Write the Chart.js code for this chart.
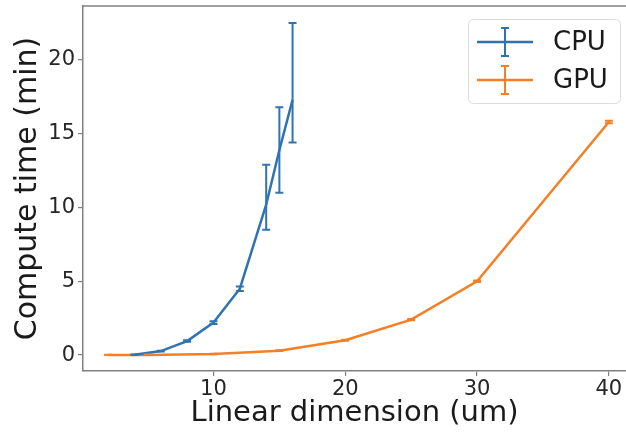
<!DOCTYPE html>
<html>
<head>
<meta charset="utf-8">
<script src="https://cdn.jsdelivr.net/npm/chart.js@4/dist/chart.umd.min.js"></script>
<style>
  html, body { margin: 0; padding: 0; background: #fff; }
  #wrap { width: 626px; height: 436px; }
</style>
</head>
<body>
<div id="wrap"><canvas id="timing__chart"></canvas></div>
<script>
// values
var seriesNames = ['CPU', 'GPU'];
var cpuX   = [4, 6, 8, 10, 12, 14, 15, 16];
var cpuY   = [0.02, 0.27, 0.95, 2.2, 4.5, 10.2, 13.9, 17.3];
var cpuMin = [0.0, 0.24, 0.9, 2.1, 4.35, 8.5, 11.0, 14.4];
var cpuMax = [0.04, 0.3, 1.0, 2.3, 4.65, 12.9, 16.8, 22.5];
var gpuX   = [2, 5, 10, 15, 20, 25, 30, 40];
var gpuY   = [0.0, 0.01, 0.07, 0.3, 1.0, 2.4, 5.0, 15.8];
var gpuMin = [0.0, 0.0, 0.05, 0.27, 0.97, 2.36, 4.95, 15.72];
var gpuMax = [0.02, 0.03, 0.09, 0.33, 1.03, 2.44, 5.05, 15.88];
var xTicks = [10, 20, 30, 40];
var yTicks = [0, 5, 10, 15, 20];

var blue = '#2f74b1';
var orange = '#f47f25';
var spine = '#808080';

function pts(xs, ys) {
    return xs.map(function (x, i) { return {x: x, y: ys[i]}; });
}

var errorBars = {
    id: 'errorBars',
    afterDatasetsDraw: function (chart) {
        var ctx = chart.ctx;
        var xs = chart.scales.x, ys = chart.scales.y;
        chart.data.datasets.forEach(function (ds) {
            ctx.save();
            ctx.strokeStyle = ds.borderColor;
            ctx.lineWidth = 2;
            ds.data.forEach(function (p, i) {
                var px = xs.getPixelForValue(p.x);
                var lo = ys.getPixelForValue(ds.errMin[i]);
                var hi = ys.getPixelForValue(ds.errMax[i]);
                ctx.beginPath();
                ctx.moveTo(px, lo); ctx.lineTo(px, hi);
                ctx.moveTo(px - 4, lo); ctx.lineTo(px + 4, lo);
                ctx.moveTo(px - 4, hi); ctx.lineTo(px + 4, hi);
                ctx.stroke();
            });
            ctx.restore();
        });
    }
};

var frameAndLegend = {
    id: 'frameAndLegend',
    afterDraw: function (chart) {
        var ctx = chart.ctx, a = chart.chartArea;
        ctx.save();
        // top spine
        ctx.strokeStyle = spine;
        ctx.lineWidth = 1.5;
        ctx.beginPath();
        ctx.moveTo(a.left, a.top); ctx.lineTo(a.right, a.top);
        ctx.stroke();

        // legend box
        var bx = 468, by = 19, bw = 152, bh = 84, r = 5;
        ctx.fillStyle = 'rgba(255,255,255,0.8)';
        ctx.strokeStyle = '#dcdcdc';
        ctx.lineWidth = 1;
        ctx.beginPath();
        ctx.roundRect(bx + 0.5, by + 0.5, bw, bh, r);
        ctx.fill();
        ctx.stroke();

        ctx.font = '26px "DejaVu Sans"';
        ctx.textBaseline = 'middle';
        chart.data.datasets.forEach(function (ds, i) {
            var cy = 42 + i * 38;
            ctx.strokeStyle = ds.borderColor;
            ctx.lineWidth = 2.5;
            ctx.beginPath();
            ctx.moveTo(477, cy); ctx.lineTo(533, cy);
            ctx.stroke();
            ctx.lineWidth = 2;
            ctx.beginPath();
            ctx.moveTo(505, cy - 14); ctx.lineTo(505, cy + 14);
            ctx.moveTo(501, cy - 14); ctx.lineTo(509, cy - 14);
            ctx.moveTo(501, cy + 14); ctx.lineTo(509, cy + 14);
            ctx.stroke();
            ctx.fillStyle = '#1a1a1a';
            ctx.fillText(ds.label, 553, cy + 1);
        });
        ctx.restore();
    }
};

var ctx = document.getElementById('timing__chart').getContext('2d');
var timingChart = new Chart(ctx, {
    type: 'line',
    data: {
        datasets: [{
            label: seriesNames[0],
            data: pts(cpuX, cpuY),
            errMin: cpuMin,
            errMax: cpuMax,
            borderColor: blue,
            borderWidth: 2.5,
            pointRadius: 0,
            tension: 0
        }, {
            label: seriesNames[1],
            data: pts(gpuX, gpuY),
            errMin: gpuMin,
            errMax: gpuMax,
            borderColor: orange,
            borderWidth: 2.5,
            pointRadius: 0,
            tension: 0
        }]
    },
    plugins: [errorBars, frameAndLegend],
    options: {
        responsive: true,
        maintainAspectRatio: false,
        animation: false,
        layout: { padding: { top: 6, right: 0, left: 0, bottom: 0 } },
        plugins: {
            legend: { display: false },
            tooltip: { enabled: false }
        },
        scales: {
            x: {
                type: 'linear',
                min: 0.1,
                max: 41.3,
                afterBuildTicks: function (s) { s.ticks = xTicks.map(function (v) { return {value: v}; }); },
                afterFit: function (s) { s.height = 65; s.paddingLeft = 0; s.paddingRight = 0; },
                grid: { drawOnChartArea: false, drawTicks: true, tickLength: 5, color: spine, lineWidth: 1.2 },
                border: { color: spine, width: 1.5 },
                ticks: { color: '#262626', padding: 1, maxRotation: 0, font: { family: 'DejaVu Sans', size: 21 } },
                title: {
                    display: true,
                    text: 'Linear dimension (um)',
                    color: '#1a1a1a',
                    padding: { top: 0, bottom: 5 },
                    font: { family: 'DejaVu Sans', size: 29 }
                }
            },
            y: {
                type: 'linear',
                min: -1.08,
                max: 23.66,
                afterBuildTicks: function (s) { s.ticks = yTicks.map(function (v) { return {value: v}; }); },
                afterFit: function (s) { s.width = 83; s.paddingTop = 0; s.paddingBottom = 0; },
                grid: { drawOnChartArea: false, drawTicks: true, tickLength: 5, color: spine, lineWidth: 1.2 },
                border: { color: spine, width: 1.5 },
                ticks: { color: '#262626', padding: 3, font: { family: 'DejaVu Sans', size: 21 } },
                title: {
                    display: true,
                    text: 'Compute time (min)',
                    color: '#1a1a1a',
                    padding: { top: 10, bottom: 0 },
                    font: { family: 'DejaVu Sans', size: 30 }
                }
            }
        }
    }
});
</script>
</body>
</html>
